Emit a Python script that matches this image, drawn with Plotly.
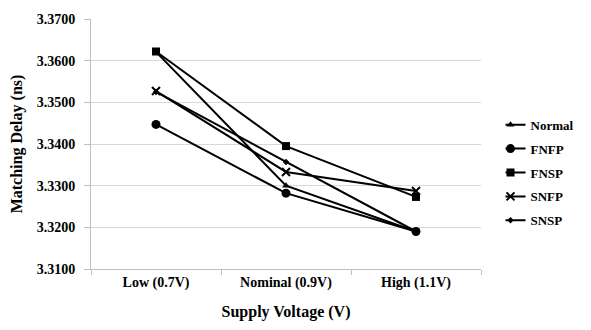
import plotly.graph_objects as go

categories = ["Low (0.7V)", "Nominal (0.9V)", "High (1.1V)"]
series_names = ["Normal", "FNFP", "FNSP", "SNFP", "SNSP"]
normal = [3.3621, 3.3300, 3.3190]
fnfp = [3.3447, 3.3282, 3.3190]
fnsp = [3.3622, 3.3395, 3.3273]
snfp = [3.3527, 3.3333, 3.3287]
snsp = [3.3525, 3.3357, 3.3190]
y_ticks = [3.31, 3.32, 3.33, 3.34, 3.35, 3.36, 3.37]

series_values = [normal, fnfp, fnsp, snfp, snsp]
symbols = ["triangle-up", "circle", "square", "x-thin", "diamond"]
sizes = [7, 9, 8, 8, 5]

font_family = "Liberation Serif"
x_pos = list(range(len(categories)))

fig = go.Figure()
for name, vals, sym, sz in zip(series_names, series_values, symbols, sizes):
    fig.add_trace(go.Scatter(
        x=x_pos, y=vals, name=name, mode="lines+markers",
        legendgroup=name,
        line=dict(color="black", width=2),
        marker=dict(symbol=sym, size=sz, color="black",
                    line=dict(color="black", width=2 if sym == "x-thin" else 0)),
    ))

fig.update_layout(
    width=591, height=330,
    margin=dict(l=91, r=99, t=12, b=60),
    paper_bgcolor="white", plot_bgcolor="white",
    font=dict(family=font_family, color="black"),
    showlegend=True,
    legend=dict(
        x=1.25, xanchor="right", y=0.385, yanchor="middle",
        font=dict(family=font_family, size=13, color="black", weight="bold"),
        tracegroupgap=4, traceorder="grouped",
        itemwidth=30, bgcolor="rgba(0,0,0,0)",
        indentation=-15,
    ),
)

fig.update_xaxes(
    range=[-0.5, 2.5],
    tickvals=x_pos, ticktext=categories,
    ticks="",
    ticklabelstandoff=0,
    tickfont=dict(family=font_family, size=14, color="black", weight="bold"),
    showgrid=False, zeroline=False,
    showline=True, linecolor="#bfbfbf", linewidth=1,
    minor=dict(tick0=0.5, dtick=1, ticks="outside", ticklen=5,
               tickcolor="#bfbfbf", showgrid=False),
    title=dict(text="Supply Voltage (V)", standoff=16,
               font=dict(family=font_family, size=16, color="black", weight="bold")),
)

fig.update_yaxes(
    range=[3.31, 3.37],
    tickvals=y_ticks, ticktext=[f"{v:.4f}" for v in y_ticks],
    ticks="outside", ticklen=6, tickcolor="#bfbfbf",
    ticklabelstandoff=6,
    tickfont=dict(family=font_family, size=14, color="black", weight="bold"),
    showgrid=True, gridcolor="#d9d9d9", gridwidth=1,
    zeroline=False,
    showline=True, linecolor="#bfbfbf", linewidth=1,
    title=dict(text="Matching Delay (ns)", standoff=10,
               font=dict(family=font_family, size=16, color="black", weight="bold")),
)

fig.write_html("out.html")
